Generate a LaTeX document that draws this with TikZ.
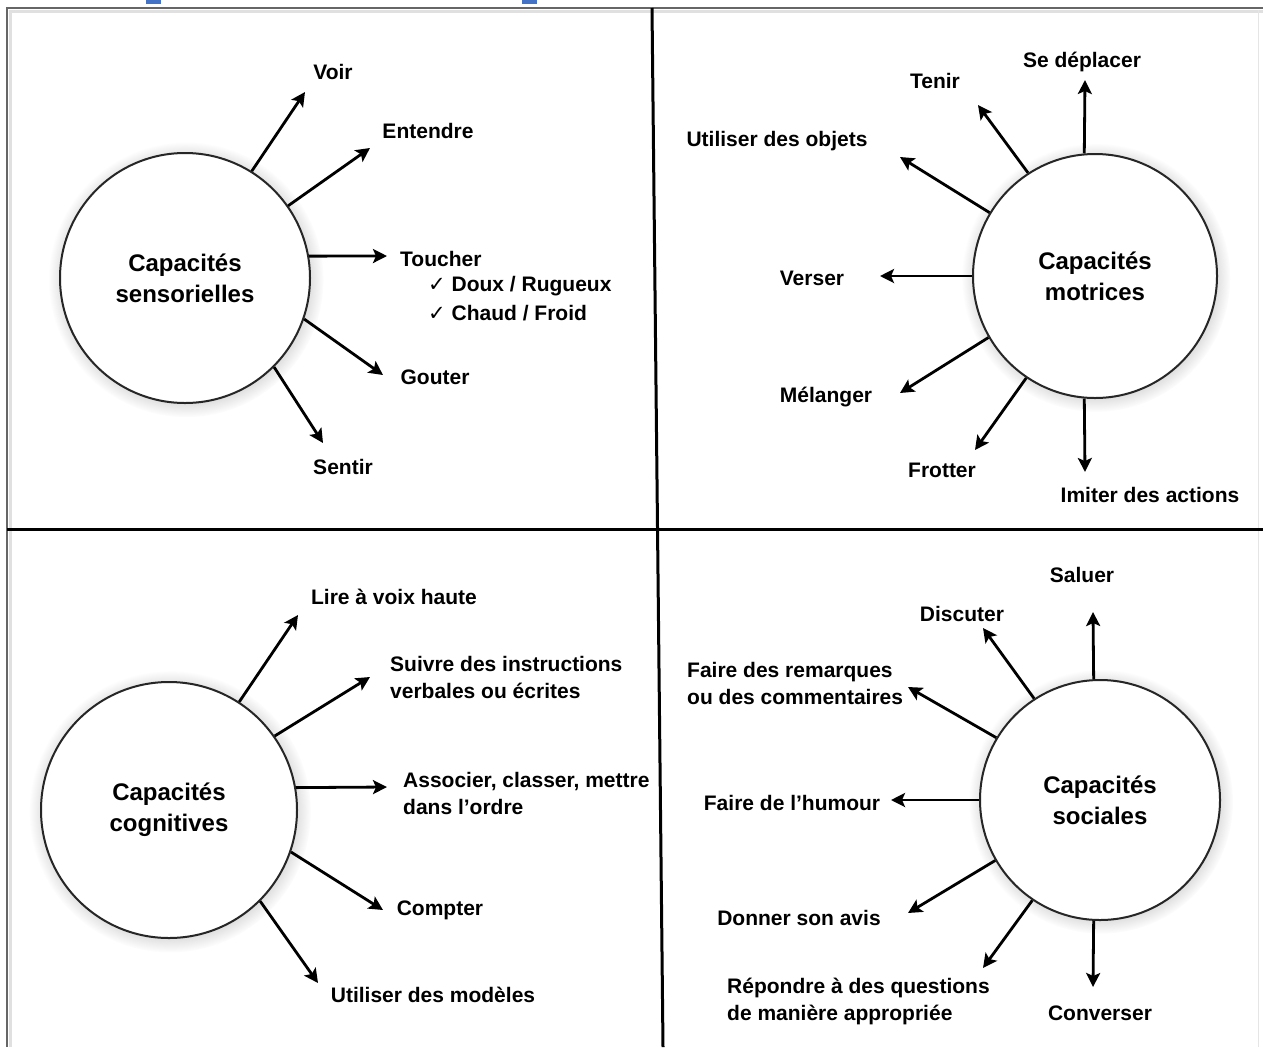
\documentclass[tikz,border=0pt]{standalone}
\usepackage{fontspec}
\setmainfont{Liberation Sans}
\newfontfamily\symf{DejaVu Sans}
\usetikzlibrary{arrows.meta,shadows}
\definecolor{markblue}{HTML}{4472C4}
\begin{document}
\begin{tikzpicture}[x=1pt,y=-1pt,
  lab/.style={font=\fontsize{21}{27}\selectfont\bfseries, inner sep=0pt, text=black},
  hub/.style={circle, draw=black!85, line width=2pt, fill=white, minimum size=#1, inner sep=0pt, align=center,
    font=\fontsize{24}{31}\selectfont\bfseries, text=black,
    circular drop shadow={shadow xshift=1pt, shadow yshift=-1.5pt, opacity=0.35}},
  arr/.style={-{Stealth[length=14pt,width=14pt,inset=3pt]}, line width=2.8pt, draw=black},
  divider/.style={line width=3pt, draw=black},
  frame/.style={line width=2pt, draw=black!60}
]
\useasboundingbox (0,0) rectangle (1263,1047);
\fill[white] (0,0) rectangle (1263,1047);
% blue marks at top
\fill[markblue] (146,0) rectangle (161,4);
\fill[markblue] (522,0) rectangle (537,4);
% frame
\draw[line width=3pt, draw=black!12] (10,1047) -- (10,11) -- (1263,11);
\draw[frame] (7,1047) -- (7,8) -- (1263,8);
\draw[line width=1pt, draw=black!10] (1258,10) -- (1258,1047);
% dividers
\draw[divider] (7,529) -- (1263,529);
\draw[divider] (652,8) -- (663,1047);

% hubs
\node[hub=250pt] (sens) at (185,278) {Capacités\\sensorielles};
\node[hub=244pt] (mot) at (1095,276) {Capacités\\motrices};
\node[hub=256pt] (cog) at (169,810) {Capacités\\cognitives};
\node[hub=240pt] (soc) at (1100,800) {Capacités\\sociales};

% ---- sensorielles
\coordinate (tVoir) at (305,92);
\coordinate (tEnt) at (370,148);
\coordinate (tTou) at (387,256);
\coordinate (tGou) at (383,375);
\coordinate (tSen) at (323,443);
\draw[arr] (sens.58) -- (tVoir);
\draw[arr] (sens.35) -- (tEnt);
\draw[arr] (sens.10.5) -- (tTou);
\draw[arr] (sens.-19) -- (tGou);
\draw[arr] (sens.-45) -- (tSen);
\node[lab] (lVoir) at (333,72) {Voir};
\node[lab] (lEnt) at (428,131) {Entendre};
\node[lab, anchor=west] (lTou) at (400,259) {Toucher};
\node[lab, anchor=west] (lDoux) at (428,286) {{\symf\mdseries ✓} Doux / Rugueux};
\node[lab, anchor=west] (lChaud) at (428,313) {{\symf\mdseries ✓} Chaud / Froid};
\node[lab] (lGou) at (435,377) {Gouter};
\node[lab] (lSen) at (343,467) {Sentir};

% ---- motrices
\coordinate (tDep) at (1085,80);
\coordinate (tTen) at (978,105);
\coordinate (tObj) at (900,157);
\coordinate (tVer) at (880,276);
\coordinate (tMel) at (900,393);
\coordinate (tFro) at (975,450);
\coordinate (tImi) at (1085,472);
\draw[arr] (mot.95) -- (tDep);
\draw[arr] (mot.123.5) -- (tTen);
\draw[arr] (mot.149) -- (tObj);
\draw[arr] (mot.180) -- (tVer);
\draw[arr] (mot.210) -- (tMel);
\draw[arr] (mot.236.5) -- (tFro);
\draw[arr] (mot.265) -- (tImi);
\node[lab] (lDep) at (1082,62) {Se déplacer};
\node[lab] (lTen) at (935,81) {Tenir};
\node[lab] (lObj) at (777,141) {Utiliser des objets};
\node[lab] (lVer) at (812,278) {Verser};
\node[lab] (lMel) at (826,397) {Mélanger};
\node[lab] (lFro) at (942,470) {Frotter};
\node[lab] (lImi) at (1150,495) {Imiter des actions};

% ---- cognitives
\coordinate (tLir) at (298,615);
\coordinate (tSui) at (370,677);
\coordinate (tAss) at (387,787);
\coordinate (tCom) at (383,910);
\coordinate (tMod) at (318,983);
\draw[arr] (cog.57) -- (tLir);
\draw[arr] (cog.35) -- (tSui);
\draw[arr] (cog.10.4) -- (tAss);
\draw[arr] (cog.-19) -- (tCom);
\draw[arr] (cog.-45) -- (tMod);
\node[lab] (lLir) at (394,597) {Lire à voix haute};
\node[lab, anchor=west, align=left] (lSui) at (390,677.5) {Suivre des instructions\\verbales ou écrites};
\node[lab, anchor=west, align=left] (lAss) at (403,793.5) {Associer, classer, mettre\\dans l’ordre};
\node[lab] (lCom) at (440,910) {Compter};
\node[lab] (lMod) at (433,995) {Utiliser des modèles};

% ---- sociales
\coordinate (tSal) at (1093,612);
\coordinate (tDis) at (983,628);
\coordinate (tRem) at (908,687);
\coordinate (tHum) at (891,800);
\coordinate (tAvi) at (908,913);
\coordinate (tRep) at (983,968);
\coordinate (tCon) at (1093,987);
\draw[arr] (soc.93) -- (tSal);
\draw[arr] (soc.123.5) -- (tDis);
\draw[arr] (soc.149) -- (tRem);
\draw[arr] (soc.180) -- (tHum);
\draw[arr] (soc.210) -- (tAvi);
\draw[arr] (soc.236.5) -- (tRep);
\draw[arr] (soc.267) -- (tCon);
\node[lab] (lSal) at (1082,575) {Saluer};
\node[lab] (lDis) at (962,614) {Discuter};
\node[lab, anchor=west, align=left] (lRem) at (687,683.5) {Faire des remarques\\ou des commentaires};
\node[lab] (lHum) at (792,803) {Faire de l’humour};
\node[lab] (lAvi) at (799,918) {Donner son avis};
\node[lab, anchor=west, align=left] (lRep) at (727,1001.5) {Répondre à des questions\\de manière appropriée};
\node[lab] (lCon) at (1100,1013) {Converser};
\end{tikzpicture}
\end{document}
